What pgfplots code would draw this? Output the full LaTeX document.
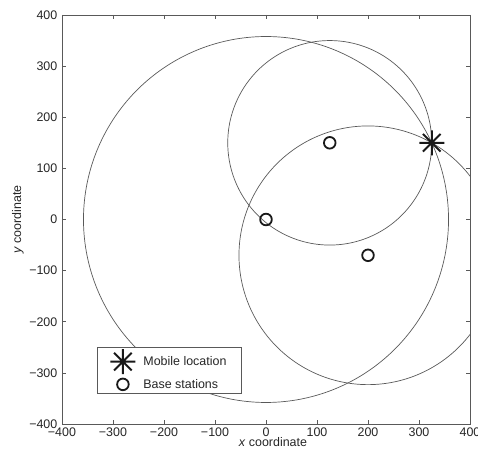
\documentclass[border=0pt]{standalone}
\usepackage{fontspec}
\setmainfont{Liberation Sans}
\usepackage{pgfplots}
\pgfplotsset{compat=1.18}

% Matlab-style eight-armed asterisk
\pgfdeclareplotmark{star8}{%
  \pgfpathmoveto{\pgfqpoint{-\pgfplotmarksize}{0pt}}%
  \pgfpathlineto{\pgfqpoint{\pgfplotmarksize}{0pt}}%
  \pgfpathmoveto{\pgfqpoint{0pt}{-\pgfplotmarksize}}%
  \pgfpathlineto{\pgfqpoint{0pt}{\pgfplotmarksize}}%
  \pgfpathmoveto{\pgfqpoint{-0.7071\pgfplotmarksize}{-0.7071\pgfplotmarksize}}%
  \pgfpathlineto{\pgfqpoint{0.7071\pgfplotmarksize}{0.7071\pgfplotmarksize}}%
  \pgfpathmoveto{\pgfqpoint{-0.7071\pgfplotmarksize}{0.7071\pgfplotmarksize}}%
  \pgfpathlineto{\pgfqpoint{0.7071\pgfplotmarksize}{-0.7071\pgfplotmarksize}}%
  \pgfusepathqstroke}

\definecolor{curve}{gray}{0.35}
\definecolor{frame}{gray}{0.35}

\begin{document}
\begin{tikzpicture}
\begin{axis}[
  scale only axis,
  width=408bp, height=409bp,
  xmin=-400, xmax=400, ymin=-400, ymax=400,
  xtick={-400,-300,...,400}, ytick={-400,-300,...,400},
  xticklabels={−400,−300,−200,−100,0,100,200,300,400},
  yticklabels={−400,−300,−200,−100,0,100,200,300,400},
  tick align=inside,
  major tick length=4bp,
  axis line style={frame, line width=0.8pt},
  every tick/.style={frame, line width=0.6pt},
  tick label style={font=\fontsize{12.5}{14}\selectfont, text=black!85},
  xticklabel style={anchor=north, yshift=-4bp, inner sep=0pt},
  yticklabel style={anchor=east, inner sep=0pt, xshift=-4.5bp},
  xlabel={\textit{x} coordinate},
  ylabel={\textit{y} coordinate},
  label style={font=\fontsize{12.5}{14}\selectfont, text=black!85},
  xlabel style={at={(axis description cs:0.517,0)}, anchor=center, yshift=-18bp},
  ylabel style={at={(axis description cs:0,0.5)}, anchor=center, yshift=44bp},
  legend style={at={(0.0858,0.0733)}, anchor=south west, draw=frame,
    line width=0.8pt, font=\fontsize{12.5}{14}\selectfont, text=black!85,
    row sep=3bp, inner xsep=13bp, inner ysep=2bp,
    /tikz/every odd column/.append style={column sep=6bp}},
  legend cell align=left,
]
% mobile location and base stations
\addplot[only marks, mark=star8, mark size=12.5bp, line width=2bp, black!90]
  coordinates {(325,150)};
\addlegendentry{Mobile location}
\addplot[only marks, mark=o, mark size=5.8bp, line width=1.8bp, black!90]
  coordinates {(0,0) (125,150) (200,-70)};
\addlegendentry{Base stations}
% range circles about each base station, through the mobile
\addplot[curve, line width=0.7pt, domain=0:360, samples=361, forget plot]
  ({0+357.9*cos(x)}, {0+357.9*sin(x)});
\addplot[curve, line width=0.7pt, domain=0:360, samples=361, forget plot]
  ({125+200*cos(x)}, {150+200*sin(x)});
\addplot[curve, line width=0.7pt, domain=0:360, samples=361, forget plot]
  ({200+253.0*cos(x)}, {-70+253.0*sin(x)});
\end{axis}
\pgfresetboundingbox
\path[use as bounding box]
  ([shift={(-62bp,-33bp)}]current axis.south west)
  rectangle ([shift={(8bp,15bp)}]current axis.north east);
\end{tikzpicture}
\end{document}
